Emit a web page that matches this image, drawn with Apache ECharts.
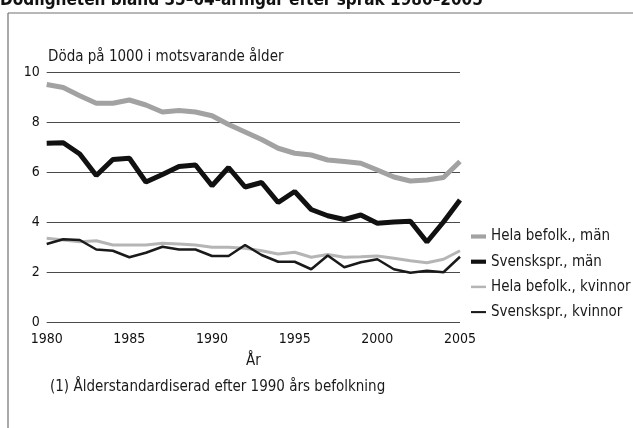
<!DOCTYPE html>
<html>
<head>
<meta charset="utf-8">
<script src="https://cdn.jsdelivr.net/npm/echarts@6/dist/echarts.min.js"></script>
<style>
  html, body { margin: 0; padding: 0; background: #fff; }
  #chart { width: 633px; height: 428px; }
</style>
</head>
<body>
<div id="chart"></div>
<script>
// Dödlighet bland 35-64-åringar, döda per 1000
const years = [1980, 1981, 1982, 1983, 1984, 1985, 1986, 1987, 1988, 1989, 1990, 1991, 1992,
  1993, 1994, 1995, 1996, 1997, 1998, 1999, 2000, 2001, 2002, 2003, 2004, 2005]

const helaMan = [9.5, 9.38, 9.05, 8.75, 8.75, 8.88, 8.68, 8.4, 8.46, 8.4, 8.25, 7.9, 7.6,
  7.3, 6.95, 6.75, 6.68, 6.48, 6.42, 6.35, 6.08, 5.8, 5.64, 5.68, 5.78, 6.42]
const svenskMan = [7.15, 7.17, 6.72, 5.86, 6.5, 6.55, 5.6, 5.9, 6.22, 6.28, 5.45, 6.18, 5.4,
  5.58, 4.78, 5.22, 4.5, 4.25, 4.1, 4.28, 3.95, 4.0, 4.03, 3.2, 4.0, 4.88]
const helaKvinnor = [3.35, 3.28, 3.21, 3.25, 3.08, 3.08, 3.08, 3.15, 3.12, 3.08, 2.99, 2.99, 2.95,
  2.85, 2.72, 2.79, 2.59, 2.7, 2.59, 2.61, 2.64, 2.55, 2.45, 2.37, 2.51, 2.85]
const svenskKvinnor = [3.12, 3.31, 3.28, 2.9, 2.85, 2.59, 2.77, 3.01, 2.9, 2.9, 2.64, 2.64, 3.08,
  2.68, 2.41, 2.41, 2.11, 2.66, 2.19, 2.39, 2.51, 2.11, 1.97, 2.05, 1.99, 2.61]

const yTicks = [0, 2, 4, 6, 8, 10]

const font = '"Liberation Sans Narrow", "DejaVu Sans Condensed", "Liberation Sans", sans-serif'

const pairs = vals => years.map((y, i) => [y, vals[i]])

const chart = echarts.init(document.getElementById('chart'))

chart.setOption({
  animation: false,
  backgroundColor: '#fff',
  textStyle: { fontFamily: font },
  grid: { left: 46.7, right: 173, top: 72, bottom: 106 },
  graphic: [
    {
      type: 'text', left: 0, top: -8,
      style: {
        text: 'Dödligheten bland 35–64-åringar efter språk 1980–2005',
        font: 'bold 17px ' + font, fill: '#111'
      }
    },
    { type: 'line', shape: { x1: 8, y1: 13, x2: 633, y2: 13 }, style: { stroke: '#707070', lineWidth: 1.2 } },
    { type: 'line', shape: { x1: 8, y1: 13, x2: 8, y2: 428 }, style: { stroke: '#707070', lineWidth: 1.2 } },
    {
      type: 'text', left: 48, top: 50,
      style: { text: 'Döda på 1000 i motsvarande ålder', font: '15px ' + font, fill: '#1a1a1a' }
    },
    {
      type: 'text', left: 50, top: 380,
      style: { text: '(1) Ålderstandardiserad efter 1990 års befolkning', font: '15px ' + font, fill: '#1a1a1a' }
    }
  ],
  legend: {
    orient: 'vertical',
    left: 471,
    top: 229,
    padding: 0,
    itemWidth: 15,
    itemHeight: 14,
    itemGap: 10.2,
    textStyle: { fontSize: 15, color: '#1a1a1a' },
    data: [
      { name: 'Hela befolk., män', icon: 'path://M0,0H18V5H0Z' },
      { name: 'Svenskspr., män', icon: 'path://M0,0H18V5H0Z' },
      { name: 'Hela befolk., kvinnor', icon: 'path://M0,0H18V3H0Z' },
      { name: 'Svenskspr., kvinnor', icon: 'path://M0,0H18V2.5H0Z' }
    ]
  },
  xAxis: {
    type: 'value',
    min: 1980,
    max: 2005,
    interval: 5,
    name: 'År',
    nameLocation: 'middle',
    nameGap: 32,
    nameTextStyle: { fontSize: 15, color: '#1a1a1a' },
    axisLine: { show: false },
    axisTick: { show: false },
    splitLine: { show: false },
    axisLabel: { fontSize: 14, color: '#111', margin: 10, formatter: v => String(v) }
  },
  yAxis: {
    type: 'value',
    min: 0,
    max: 10,
    interval: 2,
    axisLine: { show: false },
    axisTick: { show: false },
    splitLine: { lineStyle: { color: '#4a4a4a', width: 1 } },
    axisLabel: {
      fontSize: 14, color: '#111', margin: 7,
      formatter: v => (yTicks.includes(v) ? String(v) : '')
    }
  },
  series: [
    {
      name: 'Hela befolk., män', type: 'line', symbol: 'none', z: 3,
      data: pairs(helaMan),
      lineStyle: { color: '#a2a2a2', width: 5 },
      itemStyle: { color: '#a2a2a2' }
    },
    {
      name: 'Svenskspr., män', type: 'line', symbol: 'none', z: 4,
      data: pairs(svenskMan),
      lineStyle: { color: '#111', width: 5 },
      itemStyle: { color: '#111' }
    },
    {
      name: 'Hela befolk., kvinnor', type: 'line', symbol: 'none', z: 3,
      data: pairs(helaKvinnor),
      lineStyle: { color: '#b5b5b5', width: 3 },
      itemStyle: { color: '#b5b5b5' }
    },
    {
      name: 'Svenskspr., kvinnor', type: 'line', symbol: 'none', z: 4,
      data: pairs(svenskKvinnor),
      lineStyle: { color: '#1a1a1a', width: 2.5 },
      itemStyle: { color: '#1a1a1a' }
    }
  ]
})
</script>
</body>
</html>
